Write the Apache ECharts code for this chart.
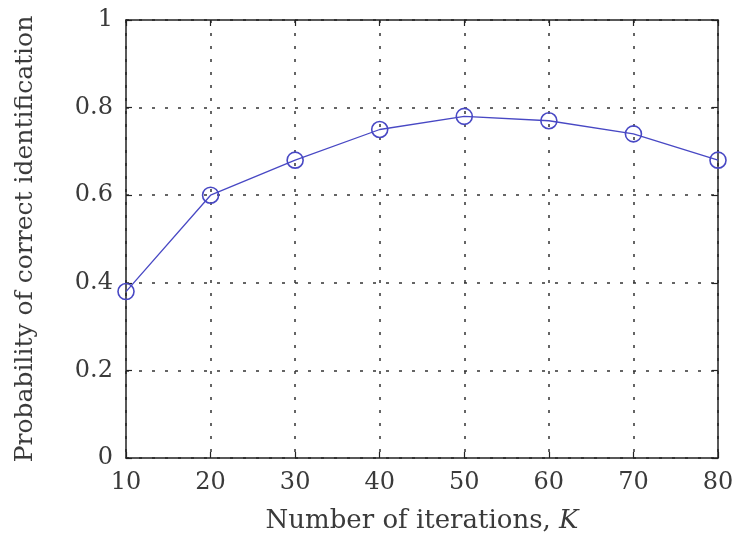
<!DOCTYPE html>
<html><head><meta charset="utf-8">
<script src="https://cdn.jsdelivr.net/npm/echarts@6/dist/echarts.min.js"></script>
<style>html,body{margin:0;padding:0;background:#fff}#c{width:736px;height:539px}</style>
</head><body><div id="c"></div>
<script>
const iterations = [10, 20, 30, 40, 50, 60, 70, 80];
const probability = [0.38, 0.60, 0.68, 0.75, 0.78, 0.77, 0.74, 0.68];
const xTicks = [10, 20, 30, 40, 50, 60, 70, 80];
const yTicks = [0, 0.2, 0.4, 0.6, 0.8, 1];

const font = 'DejaVu Serif';
const txt = '#3a3a3a';
const axisCol = '#222';
const chart = echarts.init(document.getElementById('c'), null, {renderer: 'canvas'});
const common = {
  axisLine: {show: true, onZero: false, lineStyle: {color: axisCol, width: 1.5}},
  axisTick: {show: true, inside: true, length: 6, lineStyle: {color: axisCol, width: 1.2}}
};
chart.setOption({
  animation: false,
  backgroundColor: '#fff',
  grid: {left: 126, right: 18, top: 20, bottom: 81, containLabel: false, outerBoundsMode: 'none'},
  xAxis: [{
    type: 'value', min: 10, max: 80, interval: 10,
    name: 'Number of iterations, {i|K}',
    nameLocation: 'middle', nameGap: 50,
    nameTextStyle: {fontFamily: font, fontSize: 26, color: txt,
      rich: {i: {fontFamily: font, fontStyle: 'italic', fontSize: 26, color: txt}}},
    ...common,
    axisLabel: {fontFamily: font, fontSize: 24, color: txt, margin: 13,
      formatter: v => xTicks.includes(v) ? String(v) : ''},
    splitLine: {show: true, lineStyle: {color: '#333', type: [3, 10], width: 1.5}}
  }, {
    type: 'value', min: 10, max: 80, interval: 10, position: 'top',
    ...common, axisLabel: {show: false}, splitLine: {show: false}
  }],
  yAxis: [{
    type: 'value', min: 0, max: 1, interval: 0.2,
    name: 'Probability of correct identification',
    nameLocation: 'middle', nameGap: 88, nameRotate: 90,
    nameTextStyle: {fontFamily: font, fontSize: 25, color: txt},
    ...common,
    axisLabel: {fontFamily: font, fontSize: 24, color: txt, margin: 13,
      formatter: v => { const t = yTicks.find(y => Math.abs(y - v) < 1e-9); return t === undefined ? '' : String(t); }},
    splitLine: {show: true, lineStyle: {color: '#333', type: [3, 10], width: 1.5}}
  }, {
    type: 'value', min: 0, max: 1, interval: 0.2, position: 'right',
    ...common, axisLabel: {show: false}, splitLine: {show: false}
  }],
  series: [{
    type: 'line',
    xAxisIndex: 0, yAxisIndex: 0,
    data: iterations.map((x, i) => [x, probability[i]]),
    symbol: 'circle', symbolSize: 16,
    itemStyle: {color: 'rgba(0,0,0,0)', borderColor: '#4848c4', borderWidth: 1.6},
    lineStyle: {color: '#4848c4', width: 1.3},
    clip: false, z: 5
  }]
});
</script>
</body></html>
